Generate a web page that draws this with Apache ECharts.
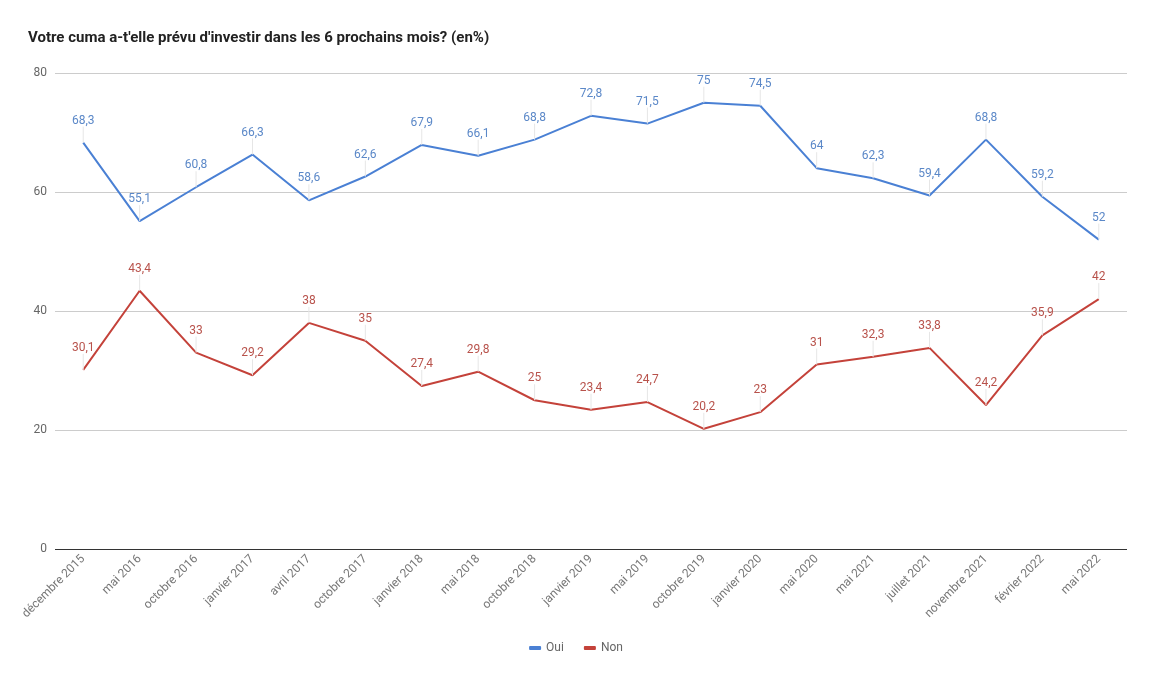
<!DOCTYPE html>
<html>
<head>
<meta charset="utf-8">
<script src="https://cdn.jsdelivr.net/npm/echarts@6/dist/echarts.min.js"></script>
<style>
html,body{margin:0;padding:0;background:#fff;}
#chart{width:1152px;height:682px;}
</style>
</head>
<body>
<div id="chart"></div>
<script>
const categories = ["décembre 2015","mai 2016","octobre 2016","janvier 2017","avril 2017","octobre 2017","janvier 2018","mai 2018","octobre 2018","janvier 2019","mai 2019","octobre 2019","janvier 2020","mai 2020","mai 2021","juillet 2021","novembre 2021","février 2022","mai 2022"];
const oui = [68.3,55.1,60.8,66.3,58.6,62.6,67.9,66.1,68.8,72.8,71.5,75,74.5,64,62.3,59.4,68.8,59.2,52];
const non = [30.1,43.4,33,29.2,38,35,27.4,29.8,25,23.4,24.7,20.2,23,31,32.3,33.8,24.2,35.9,42];
const yTicks = {min:0, max:80, interval:20};

const fmt = p => String(p.value).replace('.', ',');
const chart = echarts.init(document.getElementById('chart'));
function ser(name, data, color, labelColor){
  return {
    name, type:'line', data, symbol:'circle', symbolSize:0.01, showSymbol:true, smooth:false,
    lineStyle:{color, width:2}, itemStyle:{color},
    label:{show:true, position:'top', distance:4, formatter:fmt, color:labelColor, fontSize:12, fontFamily:'Roboto'},
    labelLayout:{dy:-12},
    labelLine:{show:true, lineStyle:{color:'#e6e6e6', width:1}},
    emphasis:{disabled:true}, animation:false
  };
}
chart.setOption({
  animation:false,
  textStyle:{fontFamily:'Roboto'},
  title:{text:"Votre cuma a-t'elle prévu d'investir dans les 6 prochains mois? (en%)", left:23, top:26,
    textStyle:{fontSize:15, fontWeight:'bold', color:'#222', fontFamily:'Roboto'}},
  legend:{bottom:23, left:'center', itemWidth:12, itemHeight:4, itemGap:20, icon:'roundRect',
    textStyle:{color:'#666', fontSize:12, fontFamily:'Roboto'},
    data:['Oui','Non']},
  grid:{left:55, right:25, top:73, bottom:133, containLabel:false},
  xAxis:{type:'category', data:categories, boundaryGap:true,
    axisLine:{show:false}, axisTick:{show:false},
    axisLabel:{rotate:45, color:'#777', fontSize:12, margin:8, interval:0, fontFamily:'Roboto'}},
  yAxis:{type:'value', min:yTicks.min, max:yTicks.max, interval:yTicks.interval,
    axisLine:{show:false}, axisTick:{show:false},
    axisLabel:{color:'#666', fontSize:12, margin:8, fontFamily:'Roboto'},
    splitLine:{lineStyle:{color:'#cccccc'}}},
  series:[
    ser('Oui', oui, '#4a80d4', '#5b88c8'),
    ser('Non', non, '#c4423a', '#b8524b'),
    {type:'line', data:[], markLine:{silent:true, symbol:'none', label:{show:false},
      lineStyle:{color:'#333', width:1, type:'solid'}, data:[{yAxis:0}]}}
  ]
});
</script>
</body>
</html>
